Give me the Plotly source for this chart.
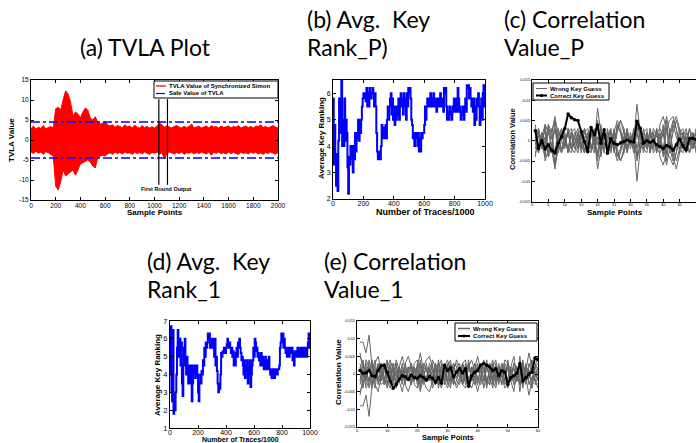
import plotly.graph_objects as go

W, H = 696, 443
FONT = "Liberation Sans"
TFONT = "Lato"

# ---------------- (a) TVLA plot data ----------------
tvla_samples = list(range(0, 2001, 20))
tvla_upper = [2.8, 3.5, 2.7, 3.2, 2.9, 3.6, 2.8, 3.1, 3.4, 3.0,
              7.8, 8.2, 7.5, 10.0, 12.3, 11.5, 9.5, 6.0, 7.0, 6.5,
              5.5, 7.0, 8.0, 7.5, 5.5, 5.0, 5.8, 4.5, 4.0, 4.2,
              4.6, 3.8, 3.5, 3.8, 3.2, 3.6, 3.4, 3.0, 3.8, 3.3,
              3.5, 3.0, 3.7, 3.2, 3.0, 3.6, 3.1, 3.4, 3.0, 3.3,
              3.0, 3.5, 4.2, 3.8, 3.2, 3.5, 3.3, 3.0, 3.4, 3.6,
              3.2, 3.0, 3.5, 3.1, 3.4, 4.0, 3.0, 3.3, 3.5, 3.0,
              3.3, 3.5, 3.0, 3.6, 3.2, 3.4, 3.0, 3.5, 3.1, 3.3,
              3.5, 3.0, 3.4, 3.2, 3.6, 3.0, 3.3, 3.5, 3.1, 3.4,
              3.0, 3.5, 3.3, 3.8, 3.1, 3.4, 3.0, 3.3, 3.6, 3.2,
              3.0]
tvla_lower = [-3.0, -3.4, -2.8, -3.3, -3.0, -3.6, -2.9, -3.2, -3.5, -4.0,
              -11.5, -12.5, -10.5, -7.5, -9.0, -8.5, -8.0, -7.5, -8.8, -7.5,
              -6.0, -5.5, -5.3, -5.0, -5.5, -6.5, -7.0, -4.5, -4.0, -3.8,
              -4.0, -3.5, -3.2, -3.6, -3.0, -3.4, -3.1, -3.5, -3.0, -3.3,
              -3.2, -3.6, -3.0, -3.4, -3.1, -3.5, -3.0, -3.3, -3.6, -3.1,
              -3.3, -3.0, -3.5, -3.2, -4.6, -3.4, -3.0, -3.3, -3.5, -3.1,
              -3.4, -3.0, -3.6, -3.2, -3.3, -3.0, -3.5, -3.1, -3.4, -3.0,
              -3.2, -3.5, -3.0, -3.8, -3.1, -3.3, -3.0, -3.4, -3.2, -3.5,
              -3.0, -3.4, -3.1, -3.3, -3.6, -3.0, -3.4, -3.2, -3.5, -3.0,
              -3.3, -3.0, -3.5, -3.2, -3.6, -3.1, -3.4, -3.0, -3.3, -3.5,
              -3.2]
safe_value = 4.5
safe_span = [0, 2000]
first_round_marks = [1035, 1105]
first_round_span = [-11.2, 10.2]

a_xticks = [0, 200, 400, 600, 800, 1000, 1200, 1400, 1600, 1800, 2000]
a_yticks = [-15, -10, -5, 0, 5, 10, 15]
a_yticklabels = ["-15", "-10", "-5", "0", "5", "10", "15"]

# ---------------- (b)/(d) average key ranking ----------------
rank_traces = list(range(0, 1001, 5))
rank_p = [5.8, 3.3, 4.8, 3.5, 2.5, 3.7, 2.3, 4.2, 5.8, 4.5, 5.8, 6.5, 4.0, 5.0, 4.0, 5.8, 4.2, 5.0, 4.5, 3.2, 2.2,
          3.6, 3.3, 4.0, 3.5, 4.0, 3.0, 4.0, 3.5, 4.5, 3.8, 4.5, 4.3, 5.0, 4.2, 5.0, 4.5, 5.0, 5.5, 5.8,
          6.0, 5.8, 6.0, 5.7, 6.2, 5.5, 6.0, 5.5, 6.2, 5.8, 6.0, 6.0, 6.2, 5.8, 5.5, 6.0, 5.5, 4.5, 3.8, 3.5,
          3.5, 3.8, 3.5, 4.0, 4.8, 4.3, 4.7, 4.3, 4.5, 4.8, 4.3, 5.0, 5.5, 5.0, 5.5, 5.8, 6.0, 5.2, 5.8, 5.0,
          5.5, 4.8, 5.5, 5.0, 5.5, 5.2, 5.8, 5.0, 5.8, 6.0, 5.5, 5.8, 5.2, 6.0, 5.5, 5.8, 5.0, 6.0, 5.5, 6.2,
          6.0, 6.2, 5.8, 5.0, 4.8, 4.3, 4.5, 4.0, 4.5, 4.3, 4.5, 4.0, 4.5, 3.8, 4.3, 3.8, 4.5, 4.3, 4.5, 4.5,
          4.8, 5.5, 5.0, 5.5, 5.8, 5.5, 5.8, 5.5, 6.0, 5.5, 5.8, 5.5, 6.0, 5.8, 5.5, 5.8, 5.3, 5.8, 5.5, 5.8,
          5.5, 6.0, 5.8, 5.5, 5.8, 5.3, 6.2, 6.0, 6.2, 5.5, 5.0, 5.3, 5.0, 5.5, 5.2, 5.3, 5.0, 5.5, 5.3, 5.8,
          5.3, 5.5, 5.8, 5.3, 6.2, 5.8, 5.3, 5.5, 5.0, 5.3, 5.2, 5.5, 5.0, 5.5, 5.8, 5.3, 6.3, 6.2, 6.3, 5.8,
          6.2, 5.8, 5.5, 5.8, 5.3, 5.8, 4.8, 5.5, 5.0, 5.8, 5.5, 6.0, 5.5, 4.8, 5.5, 5.8, 5.0, 6.0, 6.3, 5.5, 6.3]
rank_1 = [4.0, 6.7, 3.0, 2.5, 6.5, 1.8, 2.5, 2.0, 3.0, 4.0, 5.5, 6.5, 5.0, 5.5, 6.0, 4.5, 5.8, 3.5, 2.8, 4.5,
          5.5, 6.0, 4.5, 4.0, 5.0, 4.3, 3.5, 4.5, 4.0, 3.5, 4.5, 2.5, 3.5, 4.5, 4.0, 4.5, 3.8, 4.5, 4.5, 4.0,
          3.0, 2.5, 3.5, 4.0, 3.5, 4.2, 4.0, 4.8, 4.5, 5.5, 5.0, 5.8, 5.5, 5.8, 6.3, 6.0, 6.3, 5.5, 6.0, 5.5,
          6.0, 5.5, 6.0, 5.0, 6.0, 4.5, 5.0, 4.2, 3.5, 3.0, 3.5, 3.2, 4.0, 5.2, 5.0, 5.3, 5.2, 5.5, 5.3, 5.2,
          5.5, 5.7, 6.0, 5.8, 5.5, 5.8, 5.5, 5.2, 5.5, 5.0, 5.3, 4.5, 5.0, 4.5, 5.2, 5.5, 5.0, 5.8, 5.5, 6.0,
          5.5, 5.2, 4.8, 5.0, 4.5, 4.0, 4.8, 3.8, 4.5, 4.2, 4.8, 3.5, 4.5, 4.0, 4.8, 3.3, 4.0, 4.5, 4.8, 5.5,
          5.0, 6.0, 5.8, 5.3, 5.5, 5.0, 5.2, 4.8, 5.0, 4.5, 5.2, 4.5, 5.0, 4.8, 4.3, 4.5, 5.0, 4.3, 4.5, 4.8,
          4.3, 5.0, 4.3, 4.0, 4.2, 3.8, 4.3, 4.0, 4.3, 3.8, 4.3, 4.0, 4.3, 4.0, 4.3, 4.3, 4.5, 5.5, 5.8, 6.3,
          5.8, 6.3, 5.5, 6.0, 5.5, 5.2, 5.5, 5.0, 5.5, 5.3, 5.0, 5.5, 5.3, 5.2, 5.5, 4.8, 5.3, 4.5, 5.2, 5.0,
          5.3, 5.0, 5.5, 5.0, 5.3, 5.0, 5.5, 5.2, 5.0, 5.5, 5.0, 5.3, 5.5, 5.0, 5.5, 5.0, 5.5, 5.8, 6.3, 5.5, 6.0]
rank_xticks = [0, 200, 400, 600, 800, 1000]
b_yticks = [2, 3, 4, 5, 6]
d_yticks = [1, 2, 3, 4, 5, 6, 7]

# ---------------- (c)/(e) correlation values (units of 1e-3) ----------------
corr_unit = 0.001
corr_p_correct = [2.5, -1.9, 0.0, -2.0, -1.0, -2.3, -3.0, -0.6, 1.0, 3.0,
                  6.6, 5.7, 5.2, 5.0, 2.3, -0.2, -2.7, 3.3, 1.4, 3.9,
                  -0.6, 2.7, -3.1, 0.5, -0.6, -1.0, -0.5, -0.2, 0.2, -0.2,
                  -0.3, 4.8, 3.1, -0.6, 0.0, -0.4, 0.0, -1.0, -1.4, -1.9,
                  -1.2, -1.5, -2.3, -1.0, 0.4, -1.2, -2.3, 0.5, 0.6, 0.3]
corr_p_wrong = [
    [3, 1, -2, 4, 2, -1, -3, 1, 2, -1, 3, 1, -2, 0, 2, -3, 1, 2, -1, 8, 2, -1, 1, 3, -2, -5, -3, 1, 2, -1, 0, 9, 2, -1, 1, -2, 3, 1, -1, 2, -3, -4, -6, -3, 1, 2, -1, 3, 1, -2],
    [-3, -1, 2, -5, -2, 1, 3, -1, -2, 1, -3, -1, 2, 0, -2, 3, -1, -2, 1, -7, -2, 1, -1, -3, 2, 5, 3, -1, -2, 1, 0, -10, -2, 1, -1, 2, -3, -1, 1, -2, 3, 5, 6, 3, -1, -2, 1, -3, -1, 2],
    [1, -3, 2, -1, 4, 2, 5, -1, -3, 1, 2, 3, -1, 2, -2, 3, -1, -3, 2, 3, -4, 1, 2, -2, -1, 3, 5, 2, -3, 1, -2, 4, -3, 2, 1, -1, -2, 3, -4, -6, -3, 1, 4, 6, 3, -2, 1, -3, 2, 0],
    [-1, 3, -2, 1, -4, -2, -6, 1, 3, -1, -2, -3, 1, -2, 2, -3, 1, 3, -2, -3, 4, -1, -2, 2, 1, -3, -5, -2, 3, -1, 2, -4, 3, -2, -1, 1, 2, -3, 4, 6, 3, -1, -4, -7, -3, 2, -1, 3, -2, 0],
    [4, -2, 1, 2, -3, -1, 3, -3, 0, 2, -3, 2, 1, -2, 3, -1, -2, 1, 3, -1, 3, -2, 0, -3, 2, -2, -5, -3, 2, -1, 3, -2, 2, 1, -2, 3, -1, 2, 3, 1, 6, 2, -2, -5, -2, 1, 3, -1, 0, 2],
    [-4, 2, -1, -2, 3, 1, -3, 3, 0, -2, 3, -2, -1, 2, -3, 1, 2, -1, -3, 1, -3, 2, 0, 3, -2, 2, 5, 3, -2, 1, -3, 2, -2, -1, 2, -3, 1, -2, -3, -1, -6, -2, 2, 5, 2, -1, -3, 1, 0, -2],
    [0, 3, -1, -4, 3, 2, 6, 1, -2, -1, 2, -2, -3, 1, -1, 2, 3, -1, -2, 4, -2, 3, -3, 1, -1, 4, 2, -1, 3, -2, 1, -5, -1, 3, -2, 1, 2, -3, 1, 3, -5, 2, 5, 3, -3, -1, 2, 1, -2, 1],
    [0, -3, 1, 4, -3, -2, -7, -1, 2, 1, -2, 2, 3, -1, 1, -2, -3, 1, 2, -4, 2, -3, 3, -1, 1, -4, -2, 1, -3, 2, -1, 5, 1, -3, 2, -1, -2, 3, -1, -3, 5, -2, -5, -3, 3, 1, -2, -1, 2, -1],
    [2, -2, 0, 3, -4, 3, -6, -2, 3, 1, -2, 2, -1, -3, 1, 3, -2, 2, 0, -5, 2, 1, -1, -2, 3, -4, -2, 3, -1, 0, 2, -4, -1, 2, 3, -3, 1, 2, -2, 4, -3, 3, -4, -1, 2, 3, -2, 0, 1, -3],
    [-2, 2, 0, -3, 4, -3, 5, 2, -3, -1, 2, -2, 1, 3, -1, -3, 2, -2, 0, 5, -2, -1, 1, 2, -3, 4, 2, -3, 1, 0, -2, 4, 1, -2, -3, 3, -1, -2, 2, -4, 3, -3, 4, 1, -2, -3, 2, 0, -1, 3],
]
corr_1_correct = [1.0, 0.2, 0.3, 1.0, -0.5, -0.8, 1.0, 2.3, 2.5, 0.5,
                  -2.0, -4.0, -3.0, -1.5, -0.5, -0.8, -1.5, -0.3, -1.0, -1.2,
                  -0.5, -1.0, -1.8, -0.7, -1.2, -2.3, -1.0, -2.6, 2.5, 1.0,
                  1.8, -0.8, 0.5, 1.5, 0.3, 1.5, -3.5, -0.5, 0.5, 1.0,
                  2.5, 3.0, 2.5, 2.0, 1.0, 1.5, -0.5, 1.0, 0.5, -3.0,
                  -1.0, -0.5, 0.2, 3.0, -2.0, -1.0, 0.0, 0.5, 4.5, 4.0]
corr_1_wrong = [
    [9, 9, 6, 11, 2, -1, 3, -2, 1, 4, -2, 3, -1, 2, 5, 1, -2, 3, -1, 2, 6, 1, -2, 3, 1, -3, 2, 4, -1, 3, -2, 1, 4, 2, -3, 1, 3, -2, 2, 5, 1, -1, 3, -2, 2, 4, -1, 3, 1, -2, 2, 5, -1, 3, -2, 1, 6, 2, 3, 1],
    [-9, -9, -6, -12, -3, 1, -2, 3, -1, -4, 2, -3, 1, -2, -5, -1, 2, -3, 1, -2, -5, -1, 3, -2, -1, 3, -2, -4, 1, -3, 2, -1, -4, -2, 3, -1, -3, 2, -2, -5, -1, 1, -3, 2, -2, -4, 1, -3, -1, 2, -2, -5, 1, -3, 2, -1, -6, -2, -3, -1],
    [5, 3, -2, 4, -1, 3, 5, 1, -3, 2, 4, 1, -3, 2, -1, 3, 5, 2, -2, 1, -3, 2, 4, 5, 2, -1, 3, -2, 2, 4, 1, -3, 2, 3, -1, -2, 2, 4, 1, -3, 2, 3, -2, 1, 4, -1, 2, -3, 3, 1, -2, 3, 2, -1, 4, -2, 3, 1, -1, 2],
    [-5, -3, 2, -4, 1, -3, -5, -1, 3, -2, -4, -1, 3, -2, 1, -3, -5, -2, 2, -1, 3, -2, -4, -5, -2, 1, -3, 2, -2, -4, -1, 3, -2, -3, 1, 2, -2, -4, -1, 3, -2, -3, 2, -1, -4, 1, -2, 3, -3, -1, 2, -3, -2, 1, -4, 2, -3, -1, 1, -2],
    [2, -4, 3, 1, 4, -2, 1, 3, 2, -1, 3, -2, 4, 1, -3, 2, 1, -2, 3, 4, -1, 3, 1, -2, 4, 2, -1, 3, -3, 2, 4, -2, 1, -1, 3, 4, -3, 1, 3, -2, -1, 4, 1, 3, -2, 2, -3, 1, 4, 3, -1, 2, -2, 3, 1, -3, 2, 4, -2, -4],
    [-2, 4, -3, -1, -4, 2, -1, -3, -2, 1, -3, 2, -4, -1, 3, -2, -1, 2, -3, -4, 1, -3, -1, 2, -4, -2, 1, -3, 3, -2, -4, 2, -1, 1, -3, -4, 3, -1, -3, 2, 1, -4, -1, -3, 2, -2, 3, -1, -4, -3, 1, -2, 2, -3, -1, 3, -2, -4, 2, 5],
    [-3, 1, -1, 2, -3, 1, -2, -1, 3, 1, -1, 3, 2, -1, 1, -3, 2, 1, -2, 3, 2, -2, -1, 1, -3, 3, 1, -1, 2, -2, -1, 3, 2, -1, 3, 1, -1, -2, 3, 2, -1, -2, 2, 3, -1, 1, 2, -1, -2, 3, 1, -3, -1, 2, 3, -1, 1, -2, 2, 3],
    [3, -1, 1, -2, 3, -1, 2, 1, -3, -1, 1, -3, -2, 1, -1, 3, -2, -1, 2, -3, -2, 2, 1, -1, 3, -3, -1, 1, -2, 2, 1, -3, -2, 1, -3, -1, 1, 2, -3, -2, 1, 2, -2, -3, 1, -1, -2, 1, 2, -3, -1, 3, 1, -2, -3, 1, -1, 2, -2, -3],
    [6, 1, -4, -2, 1, 4, -3, 2, -2, 3, -1, 2, 1, -2, 2, -1, 1, 3, -1, -2, 4, -1, 2, -2, 1, -2, 4, -1, 2, 1, -3, 2, 3, 1, -2, 3, -4, 2, -1, 1, 3, -2, 4, -2, 3, -3, 2, -1, 2, -4, 2, 1, -2, 5, -3, 2, 1, -4, 2, 0],
    [-6, -1, 4, 2, -1, -4, 3, -2, 2, -3, 1, -2, -1, 2, -2, 1, -1, -3, 1, 2, -4, 1, -2, 2, -1, 2, -4, 1, -2, -1, 3, -2, -3, -1, 2, -3, 4, -2, 1, -1, -3, 2, -4, 2, -3, 3, -2, 1, -2, 4, -2, -1, 2, -5, 3, -2, -1, 4, -2, 0],
]
c_xticks = [0, 5, 10, 15, 20, 25, 30, 35, 40, 45, 50]
e_xticks = [0, 10, 20, 30, 40, 50, 60]
corr_yticks = [-0.015, -0.01, -0.005, 0, 0.005, 0.01, 0.015]
corr_yticklabels = ["-0.015", "-0.01", "-0.005", "0", "0.005", "0.01", "0.015"]


# ---------------- helpers (pixel -> paper) ----------------
def px(x):
    return x / W


def py(y):
    return 1 - y / H


def dom_x(l, r):
    return [px(l), px(r)]


def dom_y(t, b):
    return [py(b), py(t)]


def axis(domain, rng, tickvals, anchor, ticktext=None, size=6, mirror="ticks", standoff=0):
    d = dict(domain=domain, range=rng, tickvals=tickvals, anchor=anchor,
             ticks="inside", ticklen=3, tickcolor="black", tickwidth=1,
             showline=True, linecolor="black", linewidth=1, mirror=mirror,
             showgrid=False, zeroline=False, automargin=False,
             ticklabelstandoff=standoff,
             tickfont=dict(family=FONT, size=size, color="black"))
    if ticktext is not None:
        d["ticktext"] = ticktext
    return d


fig = go.Figure()

# (a)
fig.add_trace(go.Scatter(x=tvla_samples + tvla_samples[::-1],
                         y=tvla_upper + tvla_lower[::-1],
                         fill="toself", fillcolor="#ff0000", mode="lines",
                         line=dict(color="#ff0000", width=1), xaxis="x", yaxis="y"))
for sgn in (1, -1):
    fig.add_trace(go.Scatter(x=safe_span, y=[sgn * safe_value] * 2, mode="lines",
                             line=dict(color="#0000ff", width=1.3, dash="dashdot"),
                             xaxis="x", yaxis="y"))
for m in first_round_marks:
    fig.add_trace(go.Scatter(x=[m, m], y=first_round_span, mode="lines",
                             line=dict(color="black", width=1.2), xaxis="x", yaxis="y"))

# (b)
fig.add_trace(go.Scatter(x=rank_traces, y=rank_p, mode="lines", line_shape="hv",
                         line=dict(color="#0000ff", width=2), xaxis="x2", yaxis="y2"))

# (c)
for wl in corr_p_wrong:
    fig.add_trace(go.Scatter(x=list(range(1, len(wl) + 1)), y=[v * corr_unit for v in wl],
                             mode="lines", line=dict(color="#666666", width=1),
                             xaxis="x3", yaxis="y3"))
fig.add_trace(go.Scatter(x=list(range(1, len(corr_p_correct) + 1)),
                         y=[v * corr_unit for v in corr_p_correct], mode="lines+markers",
                         line=dict(color="black", width=2), marker=dict(color="black", size=3.5),
                         xaxis="x3", yaxis="y3"))

# (d)
fig.add_trace(go.Scatter(x=rank_traces, y=rank_1, mode="lines", line_shape="hv",
                         line=dict(color="#0000ff", width=2), xaxis="x4", yaxis="y4"))

# (e)
for wl in corr_1_wrong:
    fig.add_trace(go.Scatter(x=list(range(1, len(wl) + 1)), y=[v * corr_unit for v in wl],
                             mode="lines", line=dict(color="#666666", width=1),
                             xaxis="x5", yaxis="y5"))
fig.add_trace(go.Scatter(x=list(range(1, len(corr_1_correct) + 1)),
                         y=[v * corr_unit for v in corr_1_correct], mode="lines+markers",
                         line=dict(color="black", width=2), marker=dict(color="black", size=3.5),
                         xaxis="x5", yaxis="y5"))

layout = dict(
    width=W, height=H, margin=dict(l=0, r=0, t=0, b=0, pad=0, autoexpand=False),
    paper_bgcolor="white", plot_bgcolor="white", showlegend=False,
    xaxis=axis(dom_x(31, 278), [0, 2000], a_xticks, "y", size=6.5, standoff=-1),
    yaxis=axis(dom_y(80, 200), [-15, 15], a_yticks, "x", ticktext=a_yticklabels, size=6.5),
    xaxis2=axis(dom_x(333, 485), [0, 1000], rank_xticks, "y2", size=7, standoff=-2),
    yaxis2=axis(dom_y(80, 199), [2, 6.5], b_yticks, "x2", size=7),
    xaxis3=axis(dom_x(532, 696), [0, 50], c_xticks, "y3", size=4, standoff=-1),
    yaxis3=axis(dom_y(80, 201.5), [-0.015, 0.015], corr_yticks, "x3",
                ticktext=corr_yticklabels, size=4, mirror=False),
    xaxis4=axis(dom_x(170, 310), [0, 1000], rank_xticks, "y4", size=7, standoff=-2),
    yaxis4=axis(dom_y(321, 428), [1, 7], d_yticks, "x4", size=7.5),
    xaxis5=axis(dom_x(357, 538), [0, 60], e_xticks, "y5", size=4, standoff=-1),
    yaxis5=axis(dom_y(321, 427), [-0.015, 0.015], corr_yticks, "x5",
                ticktext=corr_yticklabels, size=4),
)

ann = []


def text(x, y, s, size, bold=True, angle=0, xanchor="center", family=FONT):
    ann.append(dict(x=px(x), y=py(y), xref="paper", yref="paper", showarrow=False,
                    text=("<b>%s</b>" % s) if bold else s, textangle=angle,
                    xanchor=xanchor, yanchor="middle", borderpad=0,
                    font=dict(family=family, size=size, color="black")))


# subplot captions
TS = 23
text(145, 47, "(a) TVLA Plot", TS, bold=False, family=TFONT)
text(306, 19, "(b) Avg.\u00a0 Key", TS, bold=False, xanchor="left", family=TFONT)
text(306, 47, "Rank_P)", TS, bold=False, xanchor="left", family=TFONT)
text(503, 19, "(c) Correlation", TS, bold=False, xanchor="left", family=TFONT)
text(503, 47, "Value_P", TS, bold=False, xanchor="left", family=TFONT)
text(146, 261, "(d) Avg.\u00a0 Key", TS, bold=False, xanchor="left", family=TFONT)
text(146, 289, "Rank_1", TS, bold=False, xanchor="left", family=TFONT)
text(323, 261, "(e) Correlation", TS, bold=False, xanchor="left", family=TFONT)
text(323, 289, "Value_1", TS, bold=False, xanchor="left", family=TFONT)

# axis titles
text(154.5, 213, "Sample Points", 8)
text(12, 140, "TVLA Value", 8, angle=-90)
text(166, 189, "First Round Output", 5.5)
text(426, 212, "Number of Traces/1000", 9)
text(321, 138, "Average Key Ranking", 8, angle=-90)
text(615, 213, "Sample Points", 8)
text(512, 139, "Correlation Value", 7.5, angle=-90)
text(240, 439, "Number of Traces/1000", 7)
text(157, 375, "Average Key Ranking", 8, angle=-90)
text(448, 437.5, "Sample Points", 7.5)
text(338, 372, "Correlation Value", 8, angle=-90)

shapes = []


def rect(x0, y0, x1, y1):
    shapes.append(dict(type="rect", xref="paper", yref="paper", x0=px(x0), x1=px(x1),
                       y0=py(y1), y1=py(y0), fillcolor="white",
                       line=dict(color="black", width=1)))


def seg(x0, x1, y, color, width=1, dash="solid"):
    shapes.append(dict(type="line", xref="paper", yref="paper", x0=px(x0), x1=px(x1),
                       y0=py(y), y1=py(y), line=dict(color=color, width=width, dash=dash)))


def dot(x, y, r=1.6):
    shapes.append(dict(type="circle", xref="paper", yref="paper", x0=px(x - r), x1=px(x + r),
                       y0=py(y + r), y1=py(y - r), fillcolor="black", line=dict(width=0)))


# legend (a)
rect(154, 81, 278, 98)
seg(156, 166, 86, "#ff0000", 1.3)
text(168, 86, "TVLA Value of Synchronized Simon", 6, xanchor="left")
seg(156, 166, 93.5, "#0000ff", 1.2, "dashdot")
text(168, 93.5, "Safe Value of TVLA", 6, xanchor="left")

# legend (c)
rect(533, 83, 609, 100)
seg(536, 547, 88.5, "#666666", 1)
text(549, 88.5, "Wrong Key Guess", 6, xanchor="left")
seg(536, 547, 95.5, "black", 2)
dot(541.5, 95.5)
text(549, 95.5, "Correct Key Guess", 6, xanchor="left")

# legend (e)
rect(455, 323, 537, 341)
seg(458, 470, 328.5, "#666666", 1.5)
text(472, 328.5, "Wrong Key Guess", 6, xanchor="left")
seg(458, 470, 336, "black", 2)
dot(464, 336)
text(472, 336, "Correct Key Guess", 6, xanchor="left")

layout["annotations"] = ann
layout["shapes"] = shapes
fig.update_layout(**layout)

fig.write_html("out.html", config={"displayModeBar": False},
               post_script="document.body.style.margin='0px';document.body.style.overflow='hidden';")
